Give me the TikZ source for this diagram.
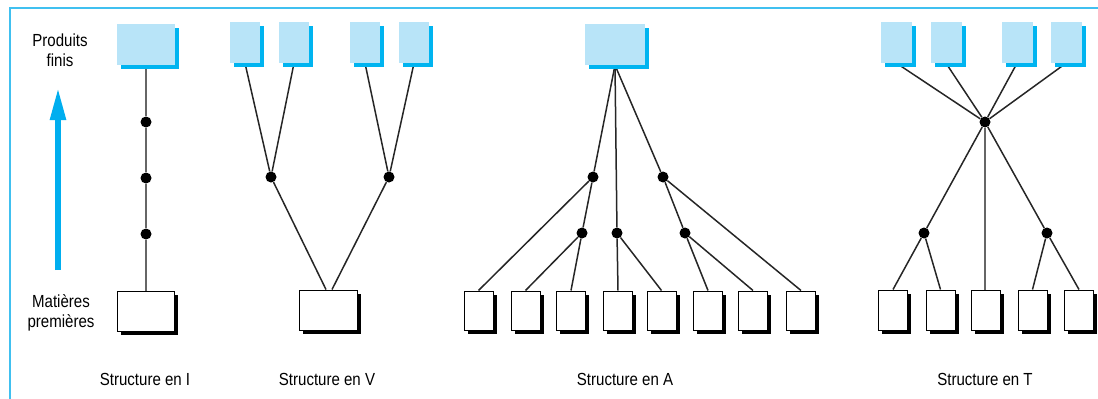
\documentclass[tikz,border=0pt]{standalone}
\usepackage{fontspec}
\setmainfont{Liberation Sans}[FakeStretch=0.86]
\usepackage{tikz}
\usetikzlibrary{shadows,arrows.meta,backgrounds}
\usepackage{xcolor}

\definecolor{prodFill}{HTML}{B8E4F8}
\definecolor{prodShadow}{HTML}{00B4F0}
\definecolor{frameBlue}{HTML}{40C0F0}
\definecolor{arrowBlue}{HTML}{00AEEF}

\begin{document}
\begin{tikzpicture}[
  x=1pt,y=-1pt,
  font=\fontsize{17.5}{20}\selectfont,
  product/.style={rectangle,fill=prodFill,inner sep=0pt,minimum width=30pt,minimum height=41pt,
    drop shadow={shadow xshift=4pt,shadow yshift=-4pt,fill=prodShadow,opacity=1}},
  productW/.style={product,minimum width=58pt},
  rawMat/.style={rectangle,draw,fill=white,line width=1pt,inner sep=0pt,minimum width=29pt,minimum height=39pt,
    drop shadow={shadow xshift=3.5pt,shadow yshift=-3.5pt,fill=black,opacity=1}},
  rawMatW/.style={rawMat,minimum width=57pt,minimum height=40pt},
  junction/.style={circle,fill=black,inner sep=0pt,minimum size=11pt},
  link/.style={-,line width=1.5pt,black!85},
  caption/.style={align=center},
  every node/.style={align=center}]

  \useasboundingbox (0,0) rectangle (1098,399);

  % frame
  \coordinate (frTopRight) at (1098,8);
  \coordinate (frCorner) at (10,8);
  \coordinate (frBottom) at (10,399);
  \draw [frameBlue,line width=2.2pt] (frTopRight) -- (frCorner) -- (frBottom);

  % left labels and arrow
  \node[caption] (lblFinis) at (60,50) {Produits\\finis};
  \node[caption] (lblMat) at (61,313) {Matières\\premières};
  \coordinate (arrowFoot) at (58,270);
  \coordinate (arrowTip) at (58,88);
  \draw [-{Triangle[length=32pt,width=15pt]},line width=5.5pt,arrowBlue] (arrowFoot) -- (arrowTip);

  % structure I
  \node[productW] (pI) at (146,44.5) {};
  \node[junction] (dI1) at (146,122) {};
  \node[junction] (dI2) at (146,178) {};
  \node[junction] (dI3) at (146,234) {};
  \node[rawMatW] (mI) at (146,311) {};

  % structure V
  \node[product] (pV1) at (245,42.5) {};
  \node[product] (pV2) at (294,42.5) {};
  \node[product] (pV3) at (365,42.5) {};
  \node[product] (pV4) at (414,42.5) {};
  \node[junction] (dV1) at (271,177) {};
  \node[junction] (dV2) at (389,177) {};
  \node[rawMatW,minimum width=58pt] (mV) at (328,310) {};

  % structure A
  \node[productW,minimum width=60pt] (pA) at (615,44.5) {};
  \node[junction] (dA1) at (593,177) {};
  \node[junction] (dA2) at (582,233) {};
  \node[junction] (dA3) at (617,233) {};
  \node[junction] (dA4) at (663,177) {};
  \node[junction] (dA5) at (685,233) {};
  \node[rawMat] (mA1) at (478.5,310.5) {};
  \node[rawMat] (mA2) at (525.5,310.5) {};
  \node[rawMat] (mA3) at (571,310.5) {};
  \node[rawMat] (mA4) at (618,310.5) {};
  \node[rawMat] (mA5) at (661.5,310.5) {};
  \node[rawMat] (mA6) at (708,310.5) {};
  \node[rawMat] (mA7) at (753,310.5) {};
  \node[rawMat] (mA8) at (801,310.5) {};

  % structure T
  \node[product,minimum width=31pt] (pT1) at (896.5,42.5) {};
  \node[product,minimum width=31pt] (pT2) at (946,42.5) {};
  \node[product,minimum width=31pt] (pT3) at (1017,42.5) {};
  \node[product,minimum width=31pt] (pT4) at (1066,42.5) {};
  \node[junction] (dT) at (985,122) {};
  \node[junction] (dT1) at (924,233) {};
  \node[junction] (dT2) at (1047,233) {};
  \node[rawMat,minimum height=40pt] (mT1) at (893,310) {};
  \node[rawMat,minimum height=40pt] (mT2) at (940.5,310) {};
  \node[rawMat,minimum height=40pt] (mT3) at (986,310) {};
  \node[rawMat,minimum height=40pt] (mT4) at (1032.5,310) {};
  \node[rawMat,minimum height=40pt] (mT5) at (1079,310) {};

  % captions
  \node[caption] (capI) at (145,379) {Structure en I};
  \node[caption] (capV) at (327,379) {Structure en V};
  \node[caption] (capA) at (625,379) {Structure en A};
  \node[caption] (capT) at (985,379) {Structure en T};

  \begin{scope}[on background layer]
  % I links
  \draw [link,black!60] (pI.south) edge (dI1);
  \draw [link,black!60] (dI1) edge (dI2);
  \draw [link,black!60] (dI2) edge (dI3);
  \draw [link,black!60] (dI3) edge (mI.north);

  % V links
  \draw [link] (pV1.south) edge (dV1);
  \draw [link] (pV2.south) edge (dV1);
  \draw [link] (pV3.south) edge (dV2);
  \draw [link] (pV4.south) edge (dV2);
  \draw [link] (dV1) edge ([xshift=-2pt]mV.north);
  \draw [link] (dV2) edge ([xshift=4pt]mV.north);

  % A links
  \draw [link] (pA.south) edge (dA1);
  \draw [link] (pA.south) edge (dA3);
  \draw [link] (pA.south) edge (dA4);
  \draw [link] (dA1) edge (dA2);
  \draw [link] (dA1) edge (mA1.north);
  \draw [link] (dA2) edge (mA2.north);
  \draw [link] (dA2) edge (mA3.north);
  \draw [link] (dA3) edge (mA4.north);
  \draw [link] (dA3) edge (mA5.north);
  \draw [link] (dA4) edge (dA5);
  \draw [link] (dA4) edge (mA8.north);
  \draw [link] (dA5) edge (mA6.north);
  \draw [link] (dA5) edge (mA7.north);

  % T links
  \draw [link] (pT1.south) edge (dT);
  \draw [link] (pT2.south) edge (dT);
  \draw [link] (pT3.south) edge (dT);
  \draw [link] (pT4.south) edge (dT);
  \draw [link] (dT) edge (dT1);
  \draw [link] (dT) edge (dT2);
  \draw [link,black!60] (dT) edge ([xshift=-1pt]mT3.north);
  \draw [link] (dT1) edge (mT1.north);
  \draw [link] (dT1) edge (mT2.north);
  \draw [link] (dT2) edge (mT4.north);
  \draw [link] (dT2) edge (mT5.north);
  \end{scope}

\end{tikzpicture}
\end{document}
